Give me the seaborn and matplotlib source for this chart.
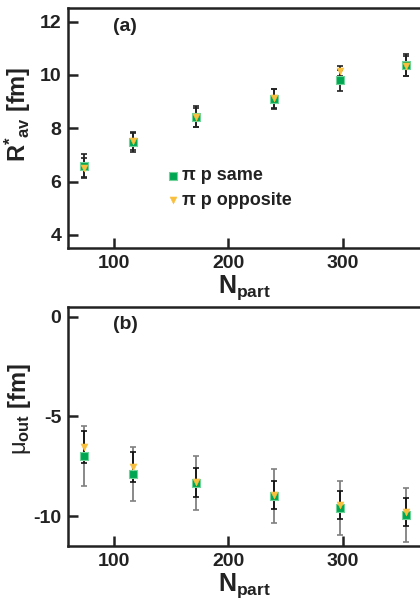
import matplotlib
matplotlib.use("Agg")
import matplotlib.pyplot as plt
import seaborn as sns
import pandas as pd
import numpy as np

sns.set_style("ticks")
plt.rcParams['font.family'] = ['Liberation Sans', 'DejaVu Sans']
plt.rcParams['mathtext.fontset'] = 'custom'
plt.rcParams['mathtext.rm'] = 'Liberation Sans'
plt.rcParams['mathtext.it'] = 'Liberation Sans'
plt.rcParams['mathtext.bf'] = 'Liberation Sans:bold'

# ---- data ----
npart = [73.7, 116.6, 171.5, 239.8, 297.9, 355.2]
r_same = [6.60, 7.48, 8.43, 9.10, 9.80, 10.38]
r_same_err = [0.43, 0.36, 0.39, 0.37, 0.40, 0.40]
r_opp = [6.50, 7.52, 8.42, 9.12, 10.15, 10.35]
r_opp_err = [0.38, 0.33, 0.36, 0.35, 0.20, 0.38]
mu_same = [-7.00, -7.87, -8.35, -9.00, -9.58, -9.95]
mu_same_err = [1.50, 1.35, 1.36, 1.35, 1.35, 1.35]
mu_opp = [-6.55, -7.55, -8.30, -8.95, -9.45, -9.80]
mu_opp_err = [0.80, 0.74, 0.72, 0.70, 0.72, 0.70]
labels = ["\u03c0 p same", "\u03c0 p opposite"]

green = "#00a651"
green_edge = "#6fd39a"
yellow = "#f8c03e"

W, H = 420, 599
fig = plt.figure(figsize=(W / 100, H / 100), dpi=100)

def box(x0, top, x1, bottom):
    return [x0 / W, 1 - bottom / H, (x1 - x0) / W, (bottom - top) / H]

ax1 = fig.add_axes(box(68.3, 8.3, 420, 248.3))
ax2 = fig.add_axes(box(68.3, 306.7, 420, 546))

def panel(ax, same, same_err, opp, opp_err, same_ecol, opp_ecol):
    ax.errorbar(npart, same, yerr=same_err, fmt='none', ecolor=same_ecol,
                elinewidth=1.3, capsize=2.2, capthick=1.2, zorder=2)
    ax.errorbar(npart, opp, yerr=opp_err, fmt='none', ecolor=opp_ecol,
                elinewidth=1.3, capsize=2.2, capthick=1.2, zorder=2)
    df_s = pd.DataFrame({"x": npart, "y": same})
    df_o = pd.DataFrame({"x": npart, "y": opp})
    sns.scatterplot(data=df_s, x="x", y="y", ax=ax, marker='s', s=30,
                    color=green, edgecolor=green_edge, linewidth=0.8,
                    zorder=3, label=labels[0])
    sns.scatterplot(data=df_o, x="x", y="y", ax=ax, marker='v', s=26,
                    color=yellow, edgecolor=yellow, linewidth=0.3,
                    zorder=4, label=labels[1])

panel(ax1, r_same, r_same_err, r_opp, r_opp_err, "#222222", "#222222")
panel(ax2, mu_same, mu_same_err, mu_opp, mu_opp_err, "#808080", "#111111")

ax1.set_xlim(60, 367.8)
ax2.set_xlim(60, 367.8)
ax1.set_ylim(3.5, 12.5)
ax2.set_ylim(-11.5, 0.5)
ax1.set_yticks([4, 6, 8, 10, 12])
ax2.set_yticks([0, -5, -10])
ax2.set_yticklabels(["0", "-5", "-10"])
for ax in (ax1, ax2):
    ax.set_xticks([100, 200, 300])
    ax.tick_params(direction='in', length=7, width=1.8, labelsize=14,
                   color='#222222', labelcolor='#222222', pad=5)
    for lab in ax.get_xticklabels() + ax.get_yticklabels():
        lab.set_fontweight('bold')
    for side in ('left', 'top', 'bottom'):
        ax.spines[side].set_linewidth(1.8)
        ax.spines[side].set_color('#222222')
    ax.spines['right'].set_visible(False)
    ax.set_xlabel(r"$\mathbf{N_{part}}$", fontsize=18, color='#222222', labelpad=1)

ax1.set_ylabel(r"$\mathbf{R^{*}{}_{av}}$ [fm]", fontsize=17, fontweight='bold',
               color='#222222')
ax2.set_ylabel(r"$\mu_{\mathbf{out}}$ [fm]", fontsize=17, fontweight='bold',
               color='#222222')
ax1.yaxis.set_label_coords(-0.10, 0.56)
ax2.yaxis.set_label_coords(-0.10, 0.57)

ax1.text(99, 11.8, "(a)", fontsize=14, fontweight='bold', va='center', color='#222222')
ax2.text(99, -0.41, "(b)", fontsize=14, fontweight='bold', va='center', color='#222222')

leg = ax1.legend(loc='upper left', bbox_to_anchor=(0.245, 0.375), frameon=False,
                 prop={'weight': 'bold', 'size': 13}, handletextpad=0.05,
                 handlelength=1.0, labelspacing=0.4, borderpad=0, markerscale=1.0)
for t in leg.get_texts():
    t.set_color('#222222')
if ax2.get_legend():
    ax2.get_legend().remove()

fig.savefig("out.png", dpi=100)
